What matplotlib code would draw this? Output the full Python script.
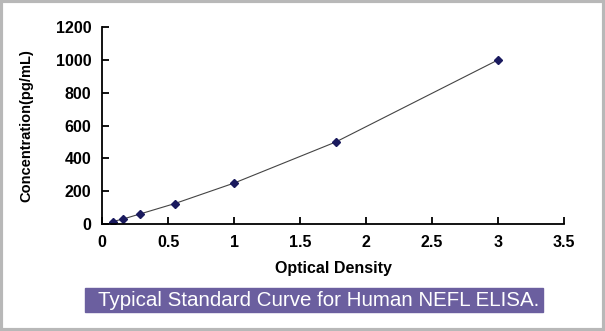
import matplotlib
matplotlib.use("Agg")
import matplotlib.pyplot as plt
from matplotlib.patches import Rectangle

# standard curve points
od = [0.08, 0.16, 0.29, 0.55, 1.0, 1.77, 3.0]
conc = [15.6, 31.25, 62.5, 125, 250, 500, 1000]

xticks = [0, 0.5, 1, 1.5, 2, 2.5, 3, 3.5]
xticklabels = ["0", "0.5", "1", "1.5", "2", "2.5", "3", "3.5"]
yticks = [0, 200, 400, 600, 800, 1000, 1200]

caption = "Typical Standard Curve for Human NEFL ELISA."

plt.rcParams['font.family'] = ['Liberation Sans', 'DejaVu Sans']

fig = plt.figure(figsize=(6.05, 3.31), dpi=100)
ax = fig.add_axes([0.169, 0.323, 0.763, 0.595])

ax.plot(od, conc, color='#444444', lw=0.8, marker='D', ms=3.8,
        mfc='#1a1a5e', mec='#1a1a5e')

ax.set_xlim(0, 3.5)
ax.set_ylim(0, 1200)
ax.set_xticks(xticks)
ax.set_xticklabels(xticklabels)
ax.set_yticks(yticks)
for s in ['top', 'right']:
    ax.spines[s].set_visible(False)
for s in ['left', 'bottom']:
    ax.spines[s].set_linewidth(1.3)
ax.tick_params(direction='in', length=5, width=1.3, labelsize=11.5, pad=8)
for lab in ax.get_xticklabels() + ax.get_yticklabels():
    lab.set_fontweight('bold')

ax.set_xlabel("Optical Density", fontsize=11.5, fontweight='bold', labelpad=8)
ax.set_ylabel("Concentration(pg/mL)", fontsize=10.5, fontweight='bold', labelpad=16)

# caption band
fig.patches.append(Rectangle((85 / 605, 1 - 312 / 331), 458 / 605, 24 / 331,
                             transform=fig.transFigure, color='#6b5f9f', zorder=0))
fig.text(319 / 605, 1 - 300 / 331, caption, color='white', fontsize=14.8,
         ha='center', va='center')

# gray frame round the picture
fig.patches.append(Rectangle((0.002, 0.004), 0.996, 0.992, transform=fig.transFigure,
                             fill=False, ec='#b8b8b8', lw=3))

fig.savefig("out.png", dpi=100)
